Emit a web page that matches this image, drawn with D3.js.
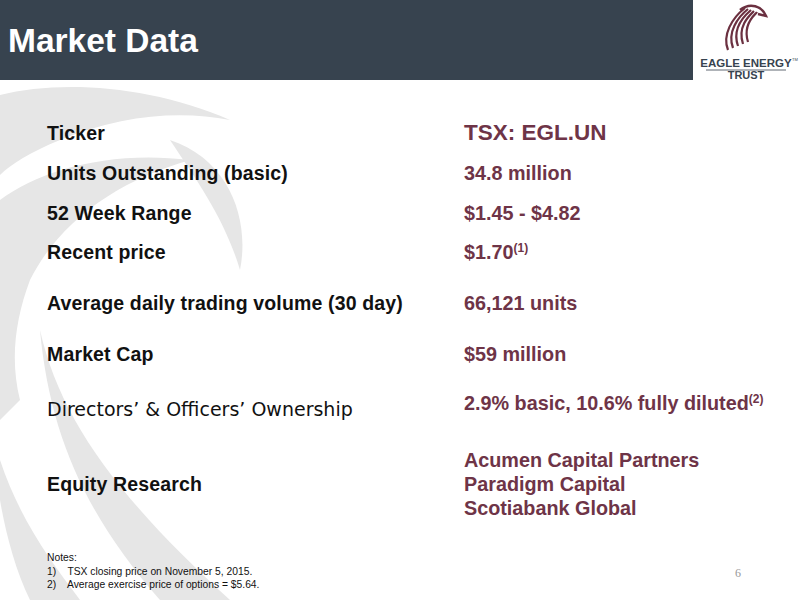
<!DOCTYPE html>
<html><head><meta charset="utf-8">
<script src="https://cdn.jsdelivr.net/npm/d3@7"></script>
<style>body{margin:0;background:#fff}</style></head>
<body><svg id="s" width="800" height="600"></svg>
<script>
const labels = ["Ticker","Units Outstanding (basic)","52 Week Range","Recent price","Average daily trading volume (30 day)","Market Cap","Directors’ & Officers’ Ownership","Equity Research"];
const values = [["TSX: EGL.UN"],["34.8 million"],["$1.45 - $4.82"],["$1.70","(1)"],["66,121 units"],["$59 million"],["2.9% basic, 10.6% fully diluted","(2)"],["Acumen Capital Partners","Paradigm Capital","Scotiabank Global"]];
const labelY = [140,180,220,259,310,361,416,491];
const valueY = [[140],[180],[220],[259],[310],[361],[410],[467,491,515]];
const notes = ["Notes:","1)    TSX closing price on November 5, 2015.","2)    Average exercise price of options = $5.64."];

const svg = d3.select("#s");
const F = "Liberation Sans, Arial, sans-serif";
const wm = svg.append("g").attr("fill","#e6e6e6");
wm.append("path").attr("d","M0,95 C60,80 150,85 230,120 C180,110 120,115 60,140 C30,152 10,165 0,175 Z");
wm.append("path").attr("d","M0,200 C40,170 110,150 190,160 C120,180 60,220 30,280 C15,320 10,360 20,400 L0,420 Z");
wm.append("path").attr("d","M40,330 C60,420 120,500 230,600 L160,600 C90,520 50,440 40,330 Z");
wm.append("path").attr("d","M0,460 C20,520 50,560 80,600 L30,600 C15,570 5,530 0,500 Z");
wm.append("path").attr("d","M170,140 C230,160 250,220 240,270 C225,220 200,185 170,140 Z");
svg.append("rect").attr("x",0).attr("y",0).attr("width",693).attr("height",80).attr("fill","#37434f");
svg.append("text").attr("x",8).attr("y",52).attr("fill","#fff").attr("font-family",F).attr("font-weight","bold").attr("font-size",33.5).text("Market Data");
const lg = svg.append("g").attr("fill","none").attr("stroke","#6b3040").attr("stroke-width",2.2);
[0,1,2,3,4].forEach(i=>lg.append("path").attr("d",`M${728+i*5},${50-i*2} C${722+i*5},${35-i*3} ${732+i*6},${18-i} ${745+i*3},${8+i}`));
lg.append("path").attr("d","M740,10 C750,2 762,6 766,16 L758,14").attr("stroke-width",2.5);
svg.append("text").attr("x",746).attr("y",67).attr("text-anchor","middle").attr("fill","#37434f").attr("font-family",F).attr("font-weight","bold").attr("font-size",11.5).text("EAGLE ENERGY");
svg.append("text").attr("x",792).attr("y",61).attr("fill","#37434f").attr("font-family",F).attr("font-size",4).text("TM");
svg.append("text").attr("x",746).attr("y",79).attr("text-anchor","middle").attr("fill","#37434f").attr("font-family",F).attr("font-weight","bold").attr("font-size",11).text("TRUST");
svg.append("line").attr("x1",706).attr("x2",786).attr("y1",70).attr("y2",70).attr("stroke","#37434f").attr("stroke-width",0.8);
labels.forEach((l,i)=>{
  svg.append("text").attr("x",47).attr("y",labelY[i]).attr("fill","#111").attr("font-family",i===6?"DejaVu Sans, sans-serif":F).attr("font-weight",i===6?"normal":"bold").attr("font-size",i===6?19:19.5).attr("letter-spacing",i===6?0:0.15).text(l);
});
const col="#6e3447";
values.forEach((v,i)=>{
  if(v.length===2 && v[1].startsWith("(")){
    const t=svg.append("text").attr("x",464).attr("y",valueY[i][0]).attr("fill",col).attr("font-family",F).attr("font-weight","bold").attr("font-size",19.8);
    t.append("tspan").text(v[0]);
    t.append("tspan").attr("font-size",12).attr("dy",-7).text(v[1]);
  } else v.forEach((s,j)=>svg.append("text").attr("x",464).attr("y",valueY[i][j]).attr("fill",col).attr("font-family",F).attr("font-weight","bold").attr("font-size",i===0?22.5:19.8).text(s));
});
notes.forEach((n,i)=>svg.append("text").attr("x",47).attr("y",561+i*13.5).attr("fill","#111").attr("font-family",F).attr("font-size",10.3).attr("xml:space","preserve").text(n));
svg.append("text").attr("x",741).attr("y",577).attr("text-anchor","end").attr("fill","#999").attr("font-family","Liberation Serif, serif").attr("font-size",12).text("6");
</script></body></html>
